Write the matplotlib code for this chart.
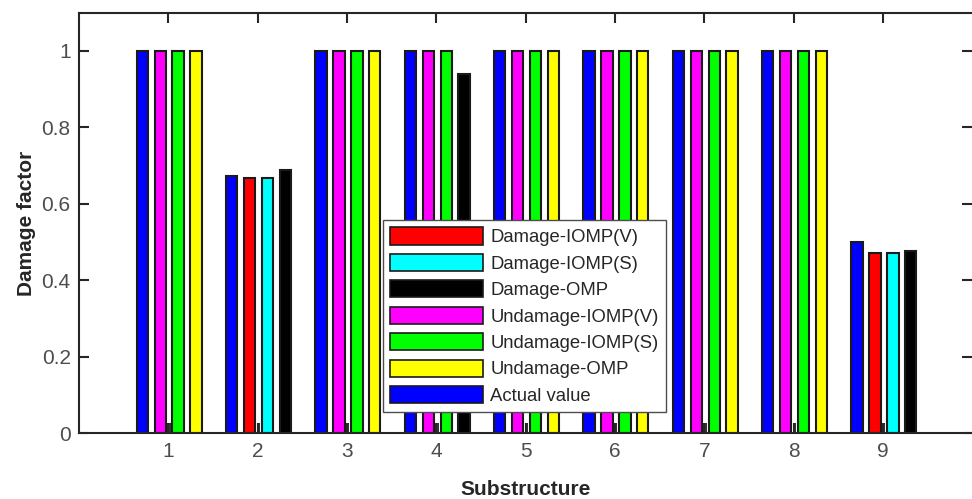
import matplotlib
matplotlib.use('Agg')
import matplotlib.pyplot as plt
import numpy as np

plt.rcParams['font.family'] = ['Liberation Sans', 'DejaVu Sans']

# Data__________________________________________________________________________

substructures = [1, 2, 3, 4, 5, 6, 7, 8, 9]

actual = [1.0, 0.673, 1.0, 1.0, 1.0, 1.0, 1.0, 1.0, 0.501]
iomp_v = [1.0, 0.667, 1.0, 1.0, 1.0, 1.0, 1.0, 1.0, 0.471]
iomp_s = [1.0, 0.667, 1.0, 1.0, 1.0, 1.0, 1.0, 1.0, 0.471]
omp = [1.0, 0.688, 1.0, 0.939, 1.0, 1.0, 1.0, 1.0, 0.476]

# which substructures are shown as "damaged" for each method
iomp_v_damaged = [False, True, False, False, False, False, False, False, True]
iomp_s_damaged = [False, True, False, False, False, False, False, False, True]
omp_damaged = [False, True, False, True, False, False, False, False, True]

# small dark marks at the group centres
marks = [0.027] * 9

legend_labels = ['Damage-IOMP(V)', 'Damage-IOMP(S)', 'Damage-OMP',
                 'Undamage-IOMP(V)', 'Undamage-IOMP(S)', 'Undamage-OMP',
                 'Actual value']


def main():
    fig = plt.figure(figsize=(9.72, 4.99), dpi=100)
    ax = fig.add_axes([79 / 972, 65.7 / 499, 893.4 / 972, 420.6 / 499])

    x = np.array(substructures, dtype=float)
    w = 0.127
    ec = '#1a1a1a'
    lw = 1.5

    # Actual value
    ax.bar(x - 0.29, actual, w, color='#0000ff', edgecolor=ec, linewidth=lw)

    # Methods: colour depends on damaged / undamaged
    series = [(iomp_v, iomp_v_damaged, '#ff0000', '#ff00ff', -0.09),
              (iomp_s, iomp_s_damaged, '#00ffff', '#00ff00', 0.11),
              (omp, omp_damaged, '#000000', '#ffff00', 0.31)]
    for vals, dmg, c_d, c_u, off in series:
        colors = [c_d if d else c_u for d in dmg]
        ax.bar(x + off, vals, w, color=colors, edgecolor=ec, linewidth=lw)

    ax.bar(x + 0.01, marks, 0.03, color='#333333', linewidth=0)

    # Axes
    ax.set_xlim(0, 10)
    ax.set_ylim(0, 1.1)
    ax.set_xticks(substructures)
    ax.set_yticks([0, 0.2, 0.4, 0.6, 0.8, 1.0])
    ax.set_yticklabels(['0', '0.2', '0.4', '0.6', '0.8', '1'])
    ax.tick_params(direction='in', length=7, width=1.5, colors='0.15',
                   labelcolor='0.3', labelsize=15, top=True, right=True,
                   pad=6)
    for s in ['left', 'bottom', 'top']:
        ax.spines[s].set_linewidth(1.5)
        ax.spines[s].set_color('0.15')
    ax.spines['right'].set_visible(False)

    ax.set_xlabel('Substructure', fontsize=15, fontweight='bold',
                  color='0.15', labelpad=14)
    ax.set_ylabel('Damage factor', fontsize=15, fontweight='bold',
                  color='0.15', labelpad=4)

    # Legend
    handle_colors = ['#ff0000', '#00ffff', '#000000', '#ff00ff',
                     '#00ff00', '#ffff00', '#0000ff']
    handles = [plt.Rectangle((0, 0), 1, 1, facecolor=c, edgecolor=ec,
                             linewidth=1.2) for c in handle_colors]
    leg = ax.legend(handles, legend_labels, loc='upper left',
                    bbox_to_anchor=(383 / 972, 1 - 220 / 499),
                    bbox_transform=fig.transFigure, borderaxespad=0,
                    fontsize=13.3, handlelength=5.0, handleheight=1.05,
                    handletextpad=0.4, labelspacing=0.41, borderpad=0.4,
                    fancybox=False, framealpha=1)
    leg.get_frame().set_edgecolor('0.3')
    leg.get_frame().set_linewidth(1.0)
    for t in leg.get_texts():
        t.set_color('0.15')

    plt.savefig('out.png', dpi=100)


if __name__ == "__main__":
    main()
